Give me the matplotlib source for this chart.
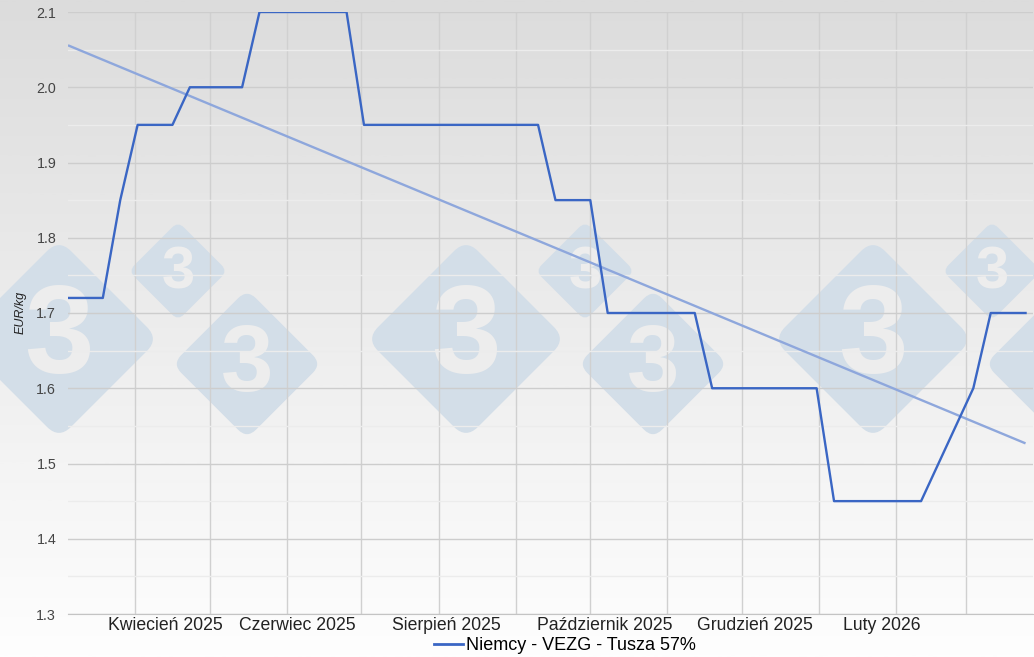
import numpy as np
import pandas as pd
import matplotlib
matplotlib.use("Agg")
import matplotlib.pyplot as plt
from matplotlib.patches import FancyBboxPatch
from matplotlib.transforms import Affine2D
from matplotlib.colors import LinearSegmentedColormap
from matplotlib.lines import Line2D

plt.rcParams['font.family'] = ['Liberation Sans', 'DejaVu Sans']

# ---- data ----
start_date = '2025-03-05'
prices = [1.72, 1.72, 1.72, 1.85, 1.95, 1.95, 1.95, 2.00, 2.00, 2.00, 2.00,
          2.10, 2.10, 2.10, 2.10, 2.10, 2.10,
          1.95, 1.95, 1.95, 1.95, 1.95, 1.95, 1.95, 1.95, 1.95, 1.95, 1.95,
          1.85, 1.85, 1.85,
          1.70, 1.70, 1.70, 1.70, 1.70, 1.70,
          1.60, 1.60, 1.60, 1.60, 1.60, 1.60, 1.60,
          1.45, 1.45, 1.45, 1.45, 1.45, 1.45,
          1.50, 1.55, 1.60,
          1.70, 1.70, 1.70]
series_name = 'Niemcy - VEZG - Tusza 57%'
x_label_texts = ['Kwiecień 2025', 'Czerwiec 2025', 'Sierpień 2025',
                 'Październik 2025', 'Grudzień 2025', 'Luty 2026']
x_label_dates = ['2025-04-13', '2025-06-05', '2025-08-04',
                 '2025-10-07', '2025-12-06', '2026-01-26']
y_ticks = [1.3, 1.4, 1.5, 1.6, 1.7, 1.8, 1.9, 2.0, 2.1]
y_label = 'EUR/kg'

dates = pd.date_range(start_date, periods=len(prices), freq='7D')
idx = np.arange(len(prices))
coef = np.polyfit(idx, prices, 1)
trend = np.polyval(coef, idx)

W, H = 1034, 657
fig = plt.figure(figsize=(W / 100, H / 100), dpi=100)

# background gradient + watermark
bg = fig.add_axes([0, 0, 1, 1], zorder=0)
grad = np.linspace(0, 1, 400)[:, None]
cmap = LinearSegmentedColormap.from_list('g', ['#dcdcdc', '#fefefe'])
bg.imshow(grad, cmap=cmap, aspect='auto', extent=[0, W, H, 0])
bg.set_xlim(0, W)
bg.set_ylim(H, 0)
bg.axis('off')

marks = [(59, 339, 103, 90), (466, 339, 103, 90), (873, 339, 103, 90),
         (247, 364, 77, 68), (653, 364, 77, 68), (1060, 364, 77, 68),
         (178, 271, 51, 43), (585, 271, 51, 43), (992, 271, 51, 43)]
for cx, cy, hd, fs in marks:
    s = hd * np.sqrt(2) * 0.97
    r = s * 0.12
    p = FancyBboxPatch((cx - s / 2, cy - s / 2), s, s,
                       boxstyle=f"round,pad=0,rounding_size={r}",
                       facecolor='#d3dee8', edgecolor='none',
                       transform=Affine2D().rotate_deg_around(cx, cy, 45) + bg.transData)
    bg.add_patch(p)
    if cx + 30 < W:
        bg.text(cx, cy + 2, '3', fontsize=fs, fontweight='bold', color='#ededed',
                ha='center', va='center')

# main axes
ax = fig.add_axes([68 / W, 1 - 614 / H, 965 / W, 602 / H], zorder=1)
ax.patch.set_alpha(0)
ax.set_axisbelow(True)

ax.plot(dates, trend, color='#8ea7dc', lw=1.7, zorder=2, solid_capstyle='butt')
ax.plot(dates, prices, color='#3a66c4', lw=1.7, zorder=3)

ax.set_ylim(1.3, 2.1)
ax.set_xlim(dates[0], pd.Timestamp('2026-03-28'))

ax.set_yticks(y_ticks)
ax.set_yticklabels([f'{v:.1f}' for v in y_ticks])
ax.set_yticks([v + 0.05 for v in y_ticks[:-1]], minor=True)

month_starts = pd.date_range('2025-04-01', '2026-03-01', freq='MS')
ax.set_xticks(month_starts)
ax.set_xticklabels([''] * len(month_starts))
ax.set_xticks(pd.to_datetime(x_label_dates), minor=True)
ax.set_xticklabels(x_label_texts, minor=True)

ax.grid(which='major', axis='y', color='#cdcdcd', lw=1)
ax.grid(which='minor', axis='y', color='#ececec', lw=1)
ax.grid(which='major', axis='x', color='#d0d0d0', lw=1)

ax.tick_params(which='both', length=0)
ax.tick_params(axis='y', which='major', pad=8.5, labelsize=10.3, labelcolor='#444444')
ax.tick_params(axis='x', which='minor', pad=2.5, labelsize=12.7, labelcolor='#222222')

for sp in ['top', 'right', 'left']:
    ax.spines[sp].set_visible(False)
ax.spines['bottom'].set_color('#c4c4c4')

fig.text(21 / W, 1 - 312 / H, y_label, rotation=90, style='italic', fontsize=9,
         color='#222222', ha='center', va='center')

handle = Line2D([], [], color='#3a66c4', lw=2)
fig.legend(handles=[handle], labels=[series_name], loc='center',
           bbox_to_anchor=(565 / W, 1 - 646 / H), frameon=False, fontsize=13,
           handlelength=1.6, handletextpad=0.15, borderpad=0)

fig.savefig('out.png', dpi=100)
